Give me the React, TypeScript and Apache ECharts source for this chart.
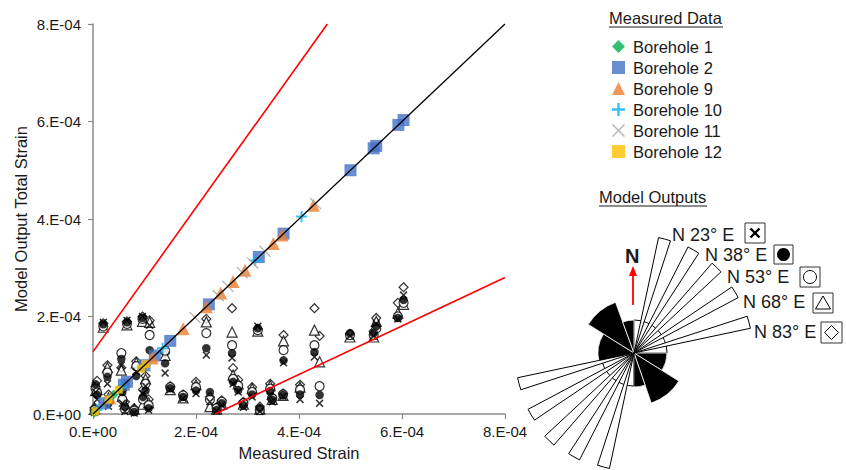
import React, { useEffect, useRef } from 'react';
import * as echarts from 'echarts';

const U = 1e-4;
const FONT = '"Liberation Sans", Arial, sans-serif';

// Axis ticks (strain)
const axisMin = 0;
const axisMax = 8e-4;
const axisStep = 2e-4;

// Measured data (values in 1e-4 strain; plotted on the 1:1 line)
const bh1 = [0.03, 0.4, 0.55, 0.95];
const bh2 = [0.22, 0.6, 0.66, 1.0, 1.2, 1.5, 2.25, 3.22, 3.7, 5.0, 5.45, 5.5, 5.93, 6.03];
const bh9 = [0.33, 1.15, 1.75, 2.2, 2.48, 2.72, 2.95, 3.5, 3.67, 4.28];
const bh10 = [0.08, 0.3, 0.55, 1.35, 3.15, 4.05];
const bh11 = [1.98, 2.43, 2.62, 2.9, 3.1, 3.34, 4.32];
const bh12 = [0.05, 0.3, 0.5, 0.93, 1.02];

// Model outputs (1e-4 strain): measured x and model output for each orientation
const modelX = [0.03, 0.05, 0.08, 0.2, 0.28, 0.3, 0.55, 0.57, 0.62, 0.66, 0.8, 0.84, 0.96, 0.97, 1.02, 1.1, 1.08, 1.4, 1.5, 1.75, 2.0, 2.2, 2.27, 2.4, 2.5, 2.7, 2.72, 2.82, 2.92, 3.09, 3.2, 3.24, 3.44, 3.48, 3.69, 3.7, 4.02, 4.3, 4.4, 4.99, 5.45, 5.5, 5.92, 6.03];
const modelN23 = [0.03, 0.45, 0.3, 1.88, 0.62, 0.16, 1.0, 0.22, 0.05, 1.92, 0.02, 0.87, 2.0, 0.42, 0.57, 1.82, 0.08, 0.84, 0.5, 0.32, 0.42, 1.21, 0.25, 0.06, 0.18, 1.15, 0.62, 0.45, 0.14, 0.35, 1.8, 0.05, 0.36, 0.25, 0.36, 1.05, 0.3, 1.17, 0.22, 1.6, 1.6, 1.85, 1.95, 2.44];
const modelN38 = [0.05, 0.61, 0.39, 1.84, 0.76, 0.22, 1.13, 0.45, 0.15, 1.88, 0.04, 0.78, 1.97, 0.35, 0.48, 1.31, 0.12, 1.04, 0.53, 0.35, 0.48, 1.35, 0.45, 0.08, 0.22, 1.25, 0.66, 0.49, 0.18, 0.4, 1.76, 0.12, 0.47, 0.29, 0.39, 1.1, 0.4, 1.27, 0.39, 1.66, 1.66, 1.8, 1.97, 2.34];
const modelN53 = [0.08, 0.52, 0.44, 1.8, 0.85, 0.28, 1.25, 0.3, 0.1, 1.85, 0.07, 0.98, 1.95, 0.3, 0.62, 1.62, 0.18, 1.3, 0.55, 0.38, 0.55, 1.66, 0.29, 0.12, 0.25, 1.41, 0.72, 0.58, 0.22, 0.45, 1.72, 0.08, 0.52, 0.32, 0.4, 1.31, 0.5, 1.41, 0.57, 1.62, 1.62, 1.75, 2.0, 2.28];
const modelN68 = [0.1, 0.48, 0.5, 1.78, 0.95, 0.33, 0.9, 0.36, 0.2, 1.83, 0.1, 1.05, 1.9, 0.2, 0.72, 1.88, 0.23, 1.2, 0.5, 0.33, 0.6, 1.89, 0.15, 0.1, 0.2, 1.68, 0.8, 0.62, 0.2, 0.52, 1.7, 0.1, 0.58, 0.3, 0.38, 1.5, 0.55, 1.72, 1.07, 1.58, 1.58, 1.9, 2.07, 2.25];
const modelN83 = [0.13, 0.56, 0.68, 1.86, 1.0, 0.4, 0.95, 0.5, 0.25, 1.9, 0.12, 1.08, 2.0, 0.5, 0.78, 1.92, 0.3, 1.25, 0.57, 0.4, 0.66, 1.95, 0.35, 0.14, 0.28, 2.17, 0.94, 0.7, 0.25, 0.55, 1.75, 0.15, 0.62, 0.35, 0.42, 1.62, 0.6, 2.17, 1.6, 1.64, 1.7, 1.97, 2.28, 2.6];

// Reference lines (strain)
const oneToOneX = [0, 8e-4];
const oneToOneY = [0, 8e-4];
const upperX = [0, 4.55e-4];
const upperY = [1.28e-4, 8e-4];
const lowerX = [2.37e-4, 8e-4];
const lowerY = [0, 2.8e-4];

// Rose diagram: bearing start/end (deg from north), relative length, fill (1 = black)
const roseStart = [0, 90, 122, 161, 180, 255, 302, 340, 12, 27, 41, 56, 72, 192, 207, 221, 236, 252];
const roseEnd = [90, 122, 161, 180, 255, 302, 340, 360, 18, 33, 47, 62, 78, 198, 213, 227, 242, 258];
const roseLen = [33, 33, 53, 34, 33, 36, 54, 33, 118, 119, 119, 118, 119, 118, 120, 122, 120, 119];
const roseFill = [0, 1, 1, 1, 0, 1, 1, 1, 0, 0, 0, 0, 0, 0, 0, 0, 0, 0];

const legendNames = ['Borehole 1', 'Borehole 2', 'Borehole 9', 'Borehole 10', 'Borehole 11', 'Borehole 12'];
const modelLabels = ['N 23° E', 'N 38° E', 'N 53° E', 'N 68° E', 'N 83° E'];

const PLUS = 'path://M4.1,0H5.9V4.1H10V5.9H5.9V10H4.1V5.9H0V4.1H4.1Z';
const XTHIN = 'path://M0,0.8L0.8,0L5,4.2L9.2,0L10,0.8L5.8,5L10,9.2L9.2,10L5,5.8L0.8,10L0,9.2L4.2,5Z';
const XBOLD = 'path://M0,1.4L1.4,0L5,3.6L8.6,0L10,1.4L6.4,5L10,8.6L8.6,10L5,6.4L1.4,10L0,8.6L3.6,5Z';

const diag = (arr: number[]) => arr.map((v) => [v * U, v * U]);
const pairs = (ys: number[]) => modelX.map((x, i) => [x * U, ys[i] * U]);

const fmt = (v: number) => {
  const n = Math.round(v / 1e-4);
  return n === 0 ? '0.E+00' : `${n}.E-04`;
};

export default function App() {
  const ref = useRef<HTMLDivElement>(null);
  useEffect(() => {
    if (!ref.current) return;
    const chart = echarts.init(ref.current, undefined, { renderer: 'svg' });
    const axisColor = '#8a8a8a';
    const textColor = '#1a1a1a';
    const openStyle = { color: '#fff', borderColor: '#000', borderWidth: 1.2 };

    const modelSeries = [
      { name: 'N83', symbol: 'diamond', symbolSize: 9, itemStyle: openStyle, data: pairs(modelN83) },
      { name: 'N68', symbol: 'triangle', symbolSize: 10, itemStyle: openStyle, data: pairs(modelN68) },
      { name: 'N53', symbol: 'circle', symbolSize: 9, itemStyle: openStyle, data: pairs(modelN53) },
      { name: 'N38', symbol: 'circle', symbolSize: 8.5, itemStyle: { color: '#000' }, data: pairs(modelN38) },
      { name: 'N23', symbol: XBOLD, symbolSize: 8, itemStyle: { color: '#000' }, data: pairs(modelN23) },
    ].map((s) => ({ ...s, type: 'scatter', z: 2 }));

    const measured = [
      { name: 'Borehole 1', symbol: 'diamond', symbolSize: 10, itemStyle: { color: '#00B050' }, data: diag(bh1) },
      { name: 'Borehole 2', symbol: 'rect', symbolSize: 12, itemStyle: { color: '#4472C4' }, data: diag(bh2) },
      { name: 'Borehole 9', symbol: 'triangle', symbolSize: 13, itemStyle: { color: '#ED7D31' }, data: diag(bh9) },
      { name: 'Borehole 10', symbol: PLUS, symbolSize: 11, itemStyle: { color: '#00B0F0' }, data: diag(bh10) },
      { name: 'Borehole 11', symbol: XTHIN, symbolSize: 12, itemStyle: { color: '#A5A5A5' }, data: diag(bh11) },
      { name: 'Borehole 12', symbol: 'rect', symbolSize: 8, itemStyle: { color: '#FFC000' }, data: diag(bh12) },
    ].map((s) => ({ ...s, type: 'scatter', z: 3 }));

    const lineSeries = [
      { xs: oneToOneX, ys: oneToOneY, color: '#000', width: 1.3 },
      { xs: upperX, ys: upperY, color: '#FF0000', width: 1.6 },
      { xs: lowerX, ys: lowerY, color: '#FF0000', width: 1.6 },
    ].map((l) => ({
      type: 'line',
      data: l.xs.map((x, i) => [x, l.ys[i]]),
      symbol: 'none',
      lineStyle: { color: l.color, width: l.width },
      z: 4,
      silent: true,
    }));

    const roseData = roseStart.map((b, i) => [b, roseEnd[i], roseLen[i], roseFill[i]]);

    const roseSeries = {
      type: 'custom',
      coordinateSystem: 'polar',
      data: roseData,
      encode: { angle: 0, radius: 2 },
      renderItem: (params: any, api: any) => {
        const cs = params.coordSys;
        const cx = cs.cx;
        const cy = cs.cy;
        const b0 = api.value(0);
        const b1 = api.value(1);
        const len = api.value(2);
        const black = api.value(3) === 1;
        const p0 = api.coord([len, b0]);
        const p1 = api.coord([len, b1]);
        const r = Math.hypot(p0[0] - cx, p0[1] - cy);
        const a0 = Math.atan2(p0[1] - cy, p0[0] - cx);
        let a1 = Math.atan2(p1[1] - cy, p1[0] - cx);
        if (a1 <= a0) a1 += Math.PI * 2;
        return {
          type: 'sector',
          shape: { cx, cy, r0: 0, r, startAngle: a0, endAngle: a1, clockwise: true },
          style: {
            fill: black ? '#000' : '#fff',
            stroke: black ? '#fff' : '#000',
            lineWidth: black ? 0.8 : 1,
          },
        };
      },
      z: 1,
      silent: true,
    };

    const txt = (text: string, x: number, y: number, size: number, weight = 'normal') => ({
      type: 'text',
      x,
      y,
      style: { text, font: `${weight} ${size}px ${FONT}`, fill: textColor, verticalAlign: 'middle' },
    });

    const boxes = [
      { x: 745, y: 223, w: 20 },
      { x: 774, y: 245, w: 19 },
      { x: 800, y: 267, w: 20 },
      { x: 813, y: 293, w: 20 },
      { x: 821, y: 322, w: 21 },
    ];
    const labelPos = [
      { x: 672, y: 235 },
      { x: 705, y: 255 },
      { x: 727, y: 277 },
      { x: 743, y: 302 },
      { x: 754, y: 332 },
    ];

    const graphics: any[] = [
      txt('Measured Data', 609, 18, 16.5),
      { type: 'line', shape: { x1: 609, y1: 27, x2: 723, y2: 27 }, style: { stroke: textColor, lineWidth: 1 } },
      txt('Model Outputs', 599, 197, 16.5),
      { type: 'line', shape: { x1: 599, y1: 206, x2: 707, y2: 206 }, style: { stroke: textColor, lineWidth: 1 } },
      txt('N', 625, 256, 20, 'bold'),
      { type: 'line', shape: { x1: 633, y1: 305, x2: 633, y2: 274 }, style: { stroke: '#FF0000', lineWidth: 1.8 } },
      { type: 'polygon', shape: { points: [[629, 276], [637, 276], [633, 266]] }, style: { fill: '#FF0000' } },
    ];
    modelLabels.forEach((label, i) => {
      graphics.push(txt(label, labelPos[i].x, labelPos[i].y, 18));
      const b = boxes[i];
      graphics.push({ type: 'rect', shape: { x: b.x, y: b.y, width: b.w, height: b.w }, style: { fill: '#fff', stroke: '#333', lineWidth: 1 } });
      const cx = b.x + b.w / 2;
      const cy = b.y + b.w / 2;
      if (i === 0) {
        graphics.push({ type: 'line', shape: { x1: cx - 4.5, y1: cy - 4.5, x2: cx + 4.5, y2: cy + 4.5 }, style: { stroke: '#000', lineWidth: 2.4 } });
        graphics.push({ type: 'line', shape: { x1: cx - 4.5, y1: cy + 4.5, x2: cx + 4.5, y2: cy - 4.5 }, style: { stroke: '#000', lineWidth: 2.4 } });
      } else if (i === 1) {
        graphics.push({ type: 'circle', shape: { cx, cy, r: 6.5 }, style: { fill: '#000' } });
      } else if (i === 2) {
        graphics.push({ type: 'circle', shape: { cx, cy, r: 6.5 }, style: { fill: '#fff', stroke: '#000', lineWidth: 1 } });
      } else if (i === 3) {
        graphics.push({ type: 'polygon', shape: { points: [[cx, cy - 7], [cx + 7.5, cy + 6], [cx - 7.5, cy + 6]] }, style: { fill: '#fff', stroke: '#000', lineWidth: 1 } });
      } else {
        graphics.push({ type: 'polygon', shape: { points: [[cx, cy - 7], [cx + 7, cy], [cx, cy + 7], [cx - 7, cy]] }, style: { fill: '#fff', stroke: '#000', lineWidth: 1 } });
      }
    });

    const axisCommon = {
      type: 'value',
      min: axisMin,
      max: axisMax,
      interval: axisStep,
      axisLine: { show: true, lineStyle: { color: axisColor, width: 1.5 } },
      axisTick: { show: true, inside: false, length: 5, lineStyle: { color: axisColor, width: 1.2 } },
      splitLine: { show: false },
      nameLocation: 'middle',
      nameTextStyle: { fontSize: 16.5, color: textColor, fontFamily: FONT },
    };

    chart.setOption({
      animation: false,
      backgroundColor: '#fff',
      grid: { left: 93, right: 341, top: 24, bottom: 56, containLabel: false },
      polar: { center: [634, 353], radius: 120 },
      angleAxis: { type: 'value', min: 0, max: 360, startAngle: 90, clockwise: true, show: false },
      radiusAxis: { type: 'value', min: 0, max: 120, show: false },
      xAxis: {
        ...axisCommon,
        name: 'Measured Strain',
        nameGap: 30,
        axisLabel: { formatter: fmt, fontSize: 15, color: textColor, fontFamily: FONT, margin: 10 },
      },
      yAxis: {
        ...axisCommon,
        name: 'Model Output Total Strain',
        nameGap: 64,
        axisLabel: { formatter: fmt, fontSize: 15, color: textColor, fontFamily: FONT, margin: 12 },
      },
      legend: {
        data: legendNames,
        orient: 'vertical',
        left: 607,
        top: 33,
        itemWidth: 13,
        itemHeight: 13,
        itemGap: 4,
        selectedMode: false,
        textStyle: { fontSize: 16.5, color: textColor, fontFamily: FONT, padding: [0, 0, 0, 3] },
      },
      graphic: graphics,
      series: [roseSeries, ...modelSeries, ...measured, ...lineSeries],
    });
    return () => chart.dispose();
  }, []);
  return <div ref={ref} style={{ position: 'fixed', left: 0, top: 0, width: 846, height: 470 }} />;
}
